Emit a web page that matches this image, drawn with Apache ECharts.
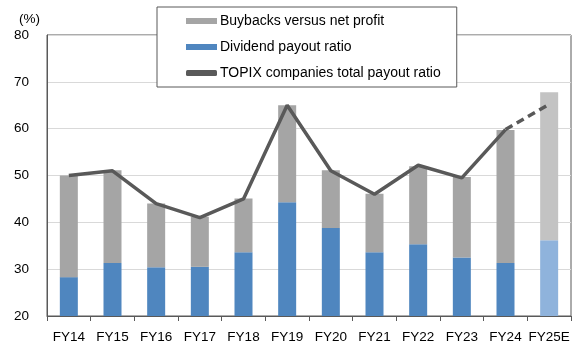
<!DOCTYPE html>
<html>
<head>
<meta charset="utf-8">
<script src="https://cdn.jsdelivr.net/npm/echarts@6/dist/echarts.min.js"></script>
<style>
    html, body { margin: 0; padding: 0; background: #fff; }
    #chart { width: 585px; height: 353px; }
</style>
</head>
<body>
<div id="chart"></div>
<script>
    // values
    let years = ['FY14', 'FY15', 'FY16', 'FY17', 'FY18', 'FY19', 'FY20', 'FY21', 'FY22', 'FY23', 'FY24', 'FY25E']
    let dividend = [28.3, 31.3, 30.4, 30.5, 33.6, 44.3, 38.8, 33.6, 35.3, 32.5, 31.3, 36.2]
    let buybacks = [21.7, 19.8, 13.6, 10.7, 11.5, 20.7, 12.3, 12.5, 16.7, 17.2, 28.4, 31.6]
    let topixActual = [50, 51, 44, 41, 45, 65, 51, 46, 52.2, 49.5, 59.8, '-']
    let topixForecast = ['-', '-', '-', '-', '-', '-', '-', '-', '-', '-', 59.8, 65.2]
    let yTicks = [20, 30, 40, 50, 60, 70, 80]

    let font = 'Liberation Sans, Arial, sans-serif'
    let lastIdx = years.length - 1

    let chart = echarts.init(document.getElementById('chart'))
    chart.setOption({
        animation: false,
        textStyle: { fontFamily: font },
        title: {
            text: '(%)',
            left: 14,
            top: 7,
            textStyle: { fontSize: 13.5, fontWeight: 'normal', color: '#000', fontFamily: font }
        },
        grid: {
            left: 47,
            right: 14,
            top: 35,
            bottom: 37,
            show: true,
            borderColor: '#595959',
            borderWidth: 1
        },
        legend: {
            orient: 'vertical',
            left: 157,
            top: 7,
            backgroundColor: '#fff',
            borderColor: '#595959',
            borderWidth: 1,
            borderRadius: 0,
            padding: [7, 16, 7, 29],
            itemGap: 12,
            itemWidth: 31,
            itemHeight: 6,
            textStyle: { fontSize: 14, color: '#000', fontFamily: font, padding: [0, 0, 0, -2] },
            data: [
                { name: 'Buybacks versus net profit', icon: 'rect' },
                { name: 'Dividend payout ratio', icon: 'rect' },
                { name: 'TOPIX companies total payout ratio', icon: 'roundRect', itemStyle: { color: '#595959' } }
            ]
        },
        xAxis: {
            type: 'category',
            data: years,
            axisLine: { lineStyle: { color: '#595959' } },
            axisTick: { show: true, length: 5, lineStyle: { color: '#595959' } },
            axisLabel: { color: '#000', fontSize: 13.5, margin: 14, interval: 0, fontFamily: font }
        },
        yAxis: {
            type: 'value',
            min: yTicks[0],
            max: yTicks[yTicks.length - 1],
            interval: 10,
            axisLine: { show: true, lineStyle: { color: '#595959' } },
            axisTick: { show: false },
            axisLabel: { color: '#000', fontSize: 13.5, margin: 18, fontFamily: font },
            splitLine: { lineStyle: { color: '#d9d9d9' } }
        },
        series: [
            {
                name: 'Dividend payout ratio',
                type: 'bar',
                stack: 'sum',
                barWidth: 18,
                itemStyle: { color: '#4f86bf' },
                data: dividend.map((v, i) => i === lastIdx ? { value: v, itemStyle: { color: '#8fb3dc' } } : v)
            },
            {
                name: 'Buybacks versus net profit',
                type: 'bar',
                stack: 'sum',
                barWidth: 18,
                itemStyle: { color: '#a5a5a5' },
                data: buybacks.map((v, i) => i === lastIdx ? { value: v, itemStyle: { color: '#c3c3c3' } } : v)
            },
            {
                name: 'TOPIX companies total payout ratio',
                type: 'line',
                symbol: 'none',
                lineStyle: { color: '#595959', width: 3.5 },
                itemStyle: { color: '#595959' },
                data: topixActual
            },
            {
                name: 'TOPIX forecast',
                type: 'line',
                symbol: 'none',
                lineStyle: { color: '#595959', width: 3.5, type: [8, 5] },
                data: topixForecast
            }
        ]
    })
</script>
</body>
</html>
